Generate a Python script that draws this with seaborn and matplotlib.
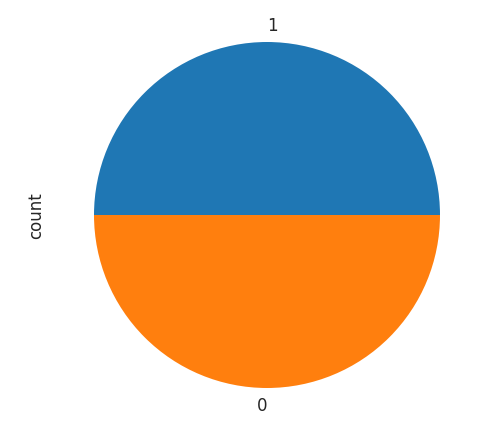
import matplotlib
matplotlib.use("Agg")
import matplotlib.pyplot as plt
import seaborn as sns

categories = ["1", "0"]
counts = [50, 50]

sns.set_style("white")
colors = sns.color_palette("tab10", 2)

fig = plt.figure(figsize=(4.8, 4.31), dpi=100)
r = 173
cx, cy = 267, 431 - 216
half = 1.25 * r
ax = fig.add_axes([(cx - half) / 480, (cy - half) / 431, 2 * half / 480, 2 * half / 431])
wedges, texts = ax.pie(counts, labels=categories, colors=colors,
                       textprops={"fontsize": 12},
                       wedgeprops={"linewidth": 0})
texts[0].set_ha("left")
texts[1].set_ha("right")
ax.set_ylabel("count", fontsize=12)
fig.savefig("out.png", dpi=100)
